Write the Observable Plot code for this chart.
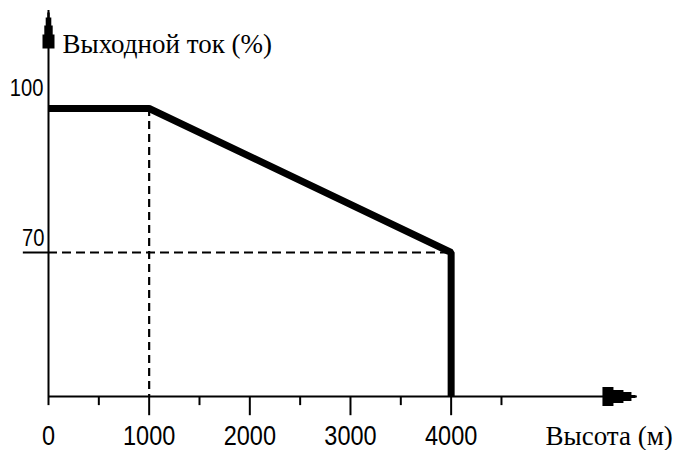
<!DOCTYPE html>
<html>
<head>
<meta charset="utf-8">
<script src="https://cdn.jsdelivr.net/npm/d3@7"></script>
<script src="https://cdn.jsdelivr.net/npm/@observablehq/plot@0.6"></script>
<style>
  html, body { margin: 0; padding: 0; background: white; }
</style>
</head>
<body>
<div id="chart"></div>
<script>
// ---- data ----
const altitude = [0, 1000, 4000, 4000];        // м
const current  = [100, 100, 70, 40];           // %
const xMajorTicks = [1000, 2000, 3000, 4000];
const xMinorTicks = [0, 500, 1500, 2500, 3500, 4500];
const xTickLabels = [0, 1000, 2000, 3000, 4000];
const yLabelTop = [100];
const yLabelLow = [70];
const yAxisTitle = "Выходной ток (%)";
const xAxisTitle = "Высота (м)";
const xAxisEnd = 5850;   // x-axis arrow end (м)
const yAxisBase = 40;    // y-axis origin (%)
const yAxisEnd = 120.4;  // y-axis arrow end (%)
const xArrowTip = [5831];
const yArrowTip = [120];

const curve = altitude.map((a, i) => ({altitude: a, current: current[i]}));

function arrowSymbol(len, steps) {
  return {
    draw(ctx) {
      const pts = [];
      for (let i = 0; i < steps.length; i++) {
        const [d, h] = steps[i];
        const dNext = i + 1 < steps.length ? steps[i + 1][0] : len;
        pts.push([h, d], [h, dNext]);
      }
      ctx.moveTo(-pts[0][0], pts[0][1]);
      for (const [h, d] of pts) ctx.lineTo(h, d);
      for (let i = pts.length - 1; i >= 0; i--) ctx.lineTo(-pts[i][0], pts[i][1]);
      ctx.closePath();
    }
  };
}
const yArrow = arrowSymbol(36, [[0, 1.2], [5, 2.8], [13, 4.2], [22, 6]]);
const xArrow = arrowSymbol(33, [[0, 1.5], [4, 4.5], [12, 6.5], [22, 9.5]]);

const digitFont = {fontFamily: "'Liberation Sans', Arimo, sans-serif", className: "narrow-digits"};
const serifFont = "'Liberation Serif', 'DejaVu Serif', serif";

const chart = Plot.plot({
  width: 673,
  height: 450,
  marginLeft: 48,
  marginRight: 0,
  marginTop: 0,
  marginBottom: 0,
  x: {domain: [0, 6209], axis: null},
  y: {domain: [28.75, 122.5], axis: null},
  style: {background: "white", color: "black"},
  marks: [
    // dashed guides
    Plot.ruleX([altitude[1]], {y1: current[1], y2: yAxisBase, stroke: "black", strokeWidth: 2.2, strokeDasharray: "8,5"}),
    Plot.ruleY(yLabelLow, {x1: 0, x2: altitude[2], stroke: "black", strokeWidth: 2.2, strokeDasharray: "9,5"}),
    Plot.ruleY(yLabelLow, {x1: -250, x2: 0, stroke: "black", strokeWidth: 2}),
    // axes
    Plot.ruleY([yAxisBase], {x1: 0, x2: xAxisEnd, stroke: "black", strokeWidth: 2}),
    Plot.ruleX([0], {y1: yAxisBase, y2: yAxisEnd, stroke: "black", strokeWidth: 2}),
    Plot.ruleX(xMinorTicks, {y1: yAxisBase, y2: 38.1, stroke: "black", strokeWidth: 2}),
    Plot.ruleX(xMajorTicks, {y1: yAxisBase, y2: 36.0, stroke: "black", strokeWidth: 2}),
    Plot.dot(yArrowTip, {x: 0, y: d => d, symbol: yArrow, fill: "black", stroke: "none"}),
    Plot.dot(xArrowTip, {x: d => d, y: yAxisBase, symbol: xArrow, rotate: 90, fill: "black", stroke: "none"}),
    // curve
    Plot.line(curve, {x: "altitude", y: "current", stroke: "black", strokeWidth: 7, strokeLinejoin: "miter", strokeLinecap: "butt"}),
    // tick labels
    Plot.text(xTickLabels, {x: d => d, y: yAxisBase, text: d => String(d), dy: 48, lineAnchor: "bottom", fontSize: 28, ...digitFont}),
    Plot.text(yLabelTop, {x: 0, y: d => d, text: d => String(d), dx: -5, dy: -13, textAnchor: "end", lineAnchor: "bottom", fontSize: 24, ...digitFont}),
    Plot.text(yLabelLow, {x: 0, y: d => d, text: d => String(d), dx: -4, dy: -7, textAnchor: "end", lineAnchor: "bottom", fontSize: 24, ...digitFont}),
    // axis titles
    Plot.text([yAxisTitle], {frameAnchor: "top-left", text: d => d, dx: 14, dy: 52, textAnchor: "start", lineAnchor: "bottom", fontSize: 27, fontFamily: serifFont}),
    Plot.text([xAxisTitle], {frameAnchor: "top-left", text: d => d, dx: 497, dy: 444, textAnchor: "start", lineAnchor: "bottom", fontSize: 27, fontFamily: serifFont})
  ]
});
// condense the digit glyphs horizontally (the reference uses a narrow bitmap-like face)
d3.select(chart).selectAll(".narrow-digits text").each(function() {
  const t = d3.select(this);
  const tr = t.attr("transform") || "";
  t.attr("transform", tr + " scale(0.84,1)");
});
document.getElementById("chart").appendChild(chart);
</script>
</body>
</html>
